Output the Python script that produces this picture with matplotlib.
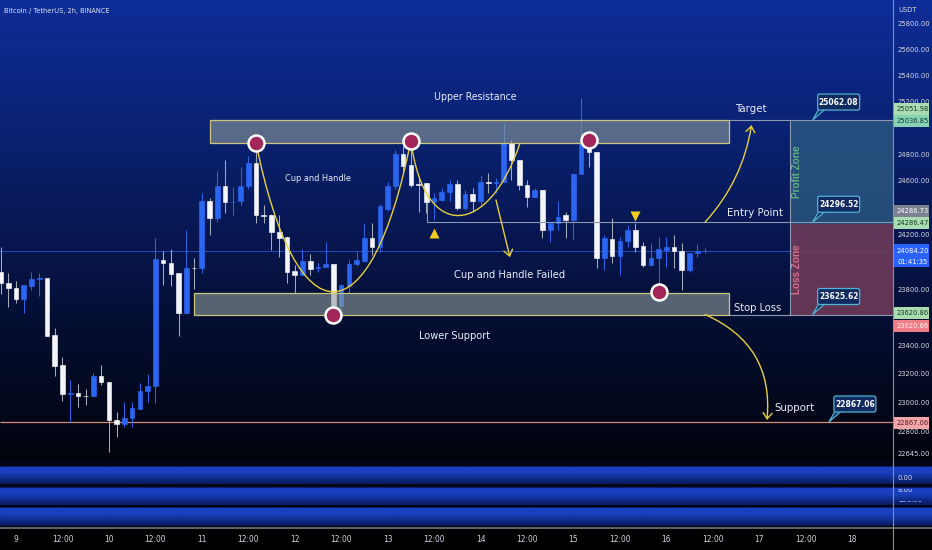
import os
import numpy as np
import matplotlib
matplotlib.use("Agg")
import matplotlib.pyplot as plt
from matplotlib import font_manager as fm
from matplotlib.patches import Rectangle, FancyBboxPatch, Polygon, PathPatch, FancyArrowPatch
from matplotlib.path import Path

# ------------------------------------------------------------------ data
# BTC/USDT, 2h candles.  Bar 0 is day 9 00:00, one bar every 2 hours.
FIRST_BAR = -2
opens = [23935, 23855, 23819, 23734, 23831, 23879, 23886, 23477, 23263, 23065,
         23072, 23049, 23045, 23190, 23149, 22879, 22855, 22896, 22961, 23084,
         23118, 24020, 24000, 23923, 23634, 23964, 23959, 24451, 24330, 24564,
         24443, 24450, 24564, 24740, 24350, 24350, 24228, 24189, 23940, 23910,
         24012, 23959, 23966, 23990, 23686, 23831, 23988, 24015, 24184, 24116,
         24398, 24564, 24808, 24723, 24582, 24589, 24443, 24458, 24523, 24579,
         24405, 24506, 24450, 24594, 24587, 24596, 24887, 24759, 24572, 24482,
         24535, 24236, 24289, 24350, 24313, 24658, 24875, 24820, 24032, 24170,
         24049, 24160, 24236, 24121, 23983, 24032, 24092, 24116, 24087, 23947,
         24071, 24083]
highs = [24116, 23928, 23869, 23836, 23935, 23928, 23891, 23530, 23326, 23161,
         23132, 23099, 23212, 23265, 23149, 22939, 23004, 23004, 23137, 23200,
         24184, 24085, 24099, 23923, 24241, 24032, 24511, 24475, 24675, 24759,
         24560, 24708, 24788, 24890, 24422, 24360, 24350, 24189, 23983, 24097,
         24063, 23995, 24153, 23990, 23845, 24020, 24075, 24288, 24288, 24430,
         24596, 24832, 24862, 24905, 24632, 24589, 24511, 24547, 24608, 24608,
         24535, 24547, 24644, 24662, 24627, 25038, 24912, 24759, 24608, 24547,
         24535, 24289, 24450, 24374, 24658, 25227, 24912, 24820, 24201, 24325,
         24189, 24277, 24289, 24153, 24141, 24189, 24189, 24201, 24141, 24073,
         24135, 24104]
lows = [23772, 23678, 23706, 23634, 23802, 23758, 23472, 23186, 23011, 22867,
        22971, 22988, 23045, 23125, 22658, 22760, 22836, 22831, 22956, 23004,
        22997, 23838, 23831, 23475, 23634, 23806, 23925, 24201, 24301, 24362,
        24350, 24422, 24542, 24294, 24294, 24092, 24044, 23855, 23777, 23910,
        23910, 23935, 23966, 23620, 23670, 23777, 23975, 24005, 24056, 24080,
        24378, 24542, 24662, 24559, 24374, 24362, 24313, 24450, 24450, 24386,
        24386, 24374, 24426, 24511, 24511, 24596, 24608, 24535, 24410, 24482,
        24184, 24153, 24241, 24184, 24170, 24658, 24711, 23959, 23947, 23995,
        23910, 24116, 24080, 23971, 23983, 23790, 23971, 23959, 23801, 23935,
        24044, 24068]
closes = [23850, 23814, 23734, 23836, 23879, 23886, 23472, 23258, 23065, 23069,
          23045, 23045, 23190, 23145, 22879, 22855, 22896, 22964, 23084, 23120,
          24024, 23995, 23918, 23639, 23964, 23959, 24451, 24330, 24564, 24443,
          24446, 24564, 24740, 24350, 24343, 24228, 24184, 23935, 23910, 24012,
          23954, 23967, 23990, 23658, 23838, 23988, 24019, 24184, 24116, 24415,
          24564, 24808, 24716, 24576, 24572, 24443, 24475, 24523, 24579, 24405,
          24506, 24450, 24596, 24587, 24597, 24887, 24759, 24572, 24482, 24535,
          24236, 24289, 24333, 24313, 24658, 24887, 24820, 24032, 24177, 24049,
          24160, 24236, 24116, 23983, 24032, 24099, 24116, 24087, 23947, 24073,
          24085, 24084.20]
LAST_PRICE = closes[-1]

time_ticks = list(range(0, 109, 6))
time_labels = ["9", "12:00", "10", "12:00", "11", "12:00", "12", "12:00", "13",
               "12:00", "14", "12:00", "15", "12:00", "16", "12:00", "17",
               "12:00", "18"]
price_ticks = [25800, 25600, 25400, 25200, 24800, 24600, 24200, 23800,
               23400, 23200, 23000, 22800, 22645]

# levels of the drawings
TARGET_LEVEL = 25062.08
ENTRY_LEVEL = 24296.52
STOP_LEVEL = 23625.62
SUPPORT_LEVEL = 22867.06
POS_TARGET = 25051.98
POS_ENTRY = 24286.47
POS_STOP = 23620.86
RES_ZONE = (24890, 25062.08)
SUP_ZONE = (23621, 23780)

# price-scale tags
tag_values = [25051.98, 25036.85, 24286.73, 24286.47, 23620.86, 23620.86, 22867.06]

# pivots marked with circles: (bar, 'high' / 'low')
pivots = [(31, "high"), (51, "high"), (41, "low"), (74, "high"), (83, "low")]

# ------------------------------------------------------------------ fonts
def _narrow_path(bold=False):
    want = 700 if bold else 400
    best = None
    for f in fm.fontManager.ttflist:
        tag = (f.name + " " + os.path.basename(f.fname)).lower()
        if "mono" in tag or ("serif" in tag and "sans" not in tag):
            continue
        stretch = str(f.stretch).lower()
        if not ("narrow" in tag or "condensed" in tag or
                stretch in ("condensed", "semi-condensed", "extra-condensed")):
            continue
        if f.style != "normal":
            continue
        w = f.weight
        if not isinstance(w, (int, float)):
            w = fm.weight_dict.get(str(w).lower(), 400)
        score = abs(w - want)
        if "liberation" in tag:
            score -= 60
        if "semi" in tag or "extra" in tag or "ultra" in tag:
            score += 40
        if best is None or score < best[0]:
            best = (score, f.fname)
    return best[1] if best else None

_NARROW = {False: _narrow_path(False), True: _narrow_path(True)}


def font(size, bold=False):
    path = _NARROW[bold]
    if path:
        return fm.FontProperties(fname=path, size=size)
    return fm.FontProperties(family=["Liberation Sans", "DejaVu Sans"],
                             weight="bold" if bold else "normal", size=size * 0.85)


# ------------------------------------------------------------------ layout
W, H = 932, 550
PANE_RIGHT = 893
PANE_BOTTOM = 460
TIME_LINE = 528

fig = plt.figure(figsize=(W / 100, H / 100), dpi=100)

# background: blue-to-black gradient, indicator stripes, black time strip
ys = np.arange(H) + 0.5
stops_y = [0, 120, 240, 340, 420, 460]
stops_c = np.array([[14, 45, 152], [10, 35, 118], [7, 22, 78],
                    [4, 13, 45], [2, 7, 24], [1, 3, 12]]) / 255.0
col = np.zeros((H, 3))
for k in range(3):
    col[:, k] = np.interp(ys, stops_y, stops_c[:, k])
col[ys >= 460] = np.array([3, 6, 22]) / 255.0
bright = np.array([26, 64, 192]) / 255.0
dark = np.array([9, 24, 88]) / 255.0
for y0, y1 in [(466, 484.5), (487, 505.5), (507.5, 526)]:
    m = (ys >= y0) & (ys < y1)
    t = (ys[m] - y0) / (y1 - y0)
    f = np.clip((t - 0.35) / 0.65, 0, 1)[:, None]
    col[m] = bright * (1 - f) + dark * f
    col[m & (ys < y0 + 1)] = np.array([12, 30, 105]) / 255.0
col[ys >= 526] = 0.0

ax_bg = fig.add_axes([0, 0, 1, 1], zorder=0)
ax_bg.set_xlim(0, W)
ax_bg.set_ylim(H, 0)
ax_bg.axis("off")
ax_bg.imshow(col[:, None, :], extent=(0, W, H, 0), aspect="auto",
             interpolation="bilinear")

# price pane
ax = fig.add_axes([0, 1 - PANE_BOTTOM / H, PANE_RIGHT / W, PANE_BOTTOM / H], zorder=1)
ax.set_yscale("log")
ax.set_xlim(-2.067, 113.28)
ax.set_ylim(22605, 25992)
ax.axis("off")
XMAX = ax.get_xlim()[1]

# overlay in figure pixels (y downwards)
ax_top = fig.add_axes([0, 0, 1, 1], zorder=2)
ax_top.set_xlim(0, W)
ax_top.set_ylim(H, 0)
ax_top.axis("off")
ax_top.patch.set_visible(False)


def to_px(i, p):
    xd, yd = ax.transData.transform((i, p))
    return xd, H - yd


# ------------------------------------------------------------------ candles
idx = np.arange(FIRST_BAR, FIRST_BAR + len(opens))
o, hi, lo, c = (np.array(a, dtype=float) for a in (opens, highs, lows, closes))
up = c >= o
BLUE = "#2a66f2"
WHITE = "#f3f5fa"
body_col = np.where(up, BLUE, WHITE)
wick_col = np.where(up, "#2e63e6", "#a4abba")
ax.vlines(idx, lo, hi, colors=wick_col, linewidth=0.75, zorder=2)
ax.bar(idx, np.maximum(c, o) - np.minimum(c, o), bottom=np.minimum(c, o),
       width=0.6, color=body_col, edgecolor=body_col, linewidth=0.45, zorder=3)

# horizontal reference lines
ax.hlines(SUPPORT_LEVEL, ax.get_xlim()[0], XMAX, color="#d88a74", lw=0.9, zorder=1.5)
ax.axhline(LAST_PRICE, color="#2d5fe6", lw=0.7, alpha=0.75, zorder=1.5)

# resistance / support zones
ZONE_LEFT_RES, ZONE_LEFT_SUP, ZONE_RIGHT = 25.06, 23.05, 92.1
for left, (z0, z1) in [(ZONE_LEFT_RES, RES_ZONE), (ZONE_LEFT_SUP, SUP_ZONE)]:
    ax.add_patch(Rectangle((left, z0), ZONE_RIGHT - left, z1 - z0,
                           facecolor="#8f9c9a", alpha=0.6, edgecolor="none", zorder=4))
    ax.add_patch(Rectangle((left, z0), ZONE_RIGHT - left, z1 - z0,
                           facecolor="none", edgecolor="#cbc67c", lw=0.9, zorder=4.1))

# target / entry / stop lines
GRAY = "#8d99b0"
ax.hlines(TARGET_LEVEL, ZONE_RIGHT, XMAX, color=GRAY, lw=0.8, zorder=4)
ax.hlines(STOP_LEVEL, ZONE_RIGHT, XMAX, color=GRAY, lw=0.8, zorder=4)
ax.plot([53.05, 53.05, XMAX], [24439, ENTRY_LEVEL, ENTRY_LEVEL], color=GRAY,
        lw=0.8, zorder=4)

# long position tool
POS_LEFT = 100.0
ax.add_patch(Rectangle((POS_LEFT, POS_ENTRY), XMAX - POS_LEFT, POS_TARGET - POS_ENTRY,
                       facecolor="#2a5680", alpha=0.85, edgecolor="none", zorder=3.5))
ax.add_patch(Rectangle((POS_LEFT, POS_STOP), XMAX - POS_LEFT, POS_ENTRY - POS_STOP,
                       facecolor="#733c5a", alpha=0.85, edgecolor="none", zorder=3.5))
ax.vlines(POS_LEFT, POS_STOP, POS_TARGET, color=GRAY, lw=0.8, zorder=4)
zone_font = fm.FontProperties(family=["Liberation Sans", "DejaVu Sans"],
                              weight="bold", size=7.2)
ax.text(100.9, 24670, "Profit Zone", rotation=90, ha="center", va="center",
        color="#5fb07f", fontproperties=zone_font, zorder=6)
ax.text(100.9, 23954, "Loss Zone", rotation=90, ha="center", va="center",
        color="#d4708b", fontproperties=zone_font, zorder=6)

# cup and handle curves
YELLOW = "#e6cf3c"
cup = [(31, highs[31 - FIRST_BAR]), (36.2, 23431), (45.8, 23431), (51, highs[51 - FIRST_BAR])]
handle = [(51, highs[51 - FIRST_BAR]), (52.8, 24129), (61.2, 24202), (65.1, 24888)]
for pts in (cup, handle):
    path = Path(pts, [Path.MOVETO, Path.CURVE4, Path.CURVE4, Path.CURVE4])
    ax.add_patch(PathPatch(path, facecolor="none", edgecolor=YELLOW, lw=1.0, zorder=5))

# arrows
arrow_style = "->,head_length=4.3,head_width=3.2"
for a, b, rad in [((62.0, 24461), (63.8, 24041), 0.0),
                  ((89.0, ENTRY_LEVEL), (95.0, 25024), 0.15),
                  ((89.0, STOP_LEVEL), (97.0, 22881), -0.36)]:
    ax.add_patch(FancyArrowPatch(a, b, arrowstyle=arrow_style,
                                 connectionstyle=f"arc3,rad={rad}", color=YELLOW,
                                 lw=1.0, mutation_scale=1, shrinkA=0, shrinkB=0,
                                 zorder=5))

# triangles
ax.plot([54.0], [24219], marker="^", ms=6.5, color="#f2cf1c", mec="none", zorder=5)
ax.plot([80.0], [24342], marker="v", ms=6.5, color="#f2cf1c", mec="none", zorder=5)

# pivot circles
for bar, kind in pivots:
    p = highs[bar - FIRST_BAR] if kind == "high" else lows[bar - FIRST_BAR]
    ax.plot([bar], [p], marker="o", ms=11.5, mfc="#a3265a", mec="white", mew=1.8,
            zorder=6)

# chart annotations
TXT = "#e8edf8"
labels = [
    (59.3, 25238, "Upper Resistance", 7.6),
    (39.0, 24625, "Cup and Handle", 6.6),
    (63.8, 23910, "Cup and Handle Failed", 7.9),
    (56.7, 23472, "Lower Support", 7.8),
    (94.9, 25146, "Target", 8.2),
    (95.45, 24365, "Entry Point", 8.2),
    (95.8, 23672, "Stop Loss", 8.0),
    (100.5, 22964, "Support", 8.2),
]
for x, y, s, sz in labels:
    ax.text(x, y, s, ha="center", va="center", color=TXT, fontproperties=font(sz),
            zorder=7)

# ------------------------------------------------------------------ overlay
# callouts with value of each level
CALL_EDGE = "#4fb3d3"
CALL_FACE = "#112a60"
for ai, lvl in [(102.9, TARGET_LEVEL), (102.9, ENTRY_LEVEL), (102.9, STOP_LEVEL),
                (105.0, SUPPORT_LEVEL)]:
    x, y = to_px(ai, lvl)
    ax_top.add_patch(Polygon([(x, y), (x + 6, y - 10.5), (x + 12, y - 10.5)],
                             closed=True, facecolor=CALL_FACE, edgecolor=CALL_EDGE,
                             lw=0.9, zorder=3))
    ax_top.add_patch(FancyBboxPatch((x + 5, y - 26), 42, 16,
                                    boxstyle="round,pad=0,rounding_size=2",
                                    facecolor=CALL_FACE, edgecolor=CALL_EDGE, lw=0.9,
                                    zorder=4))
    ax_top.text(x + 26, y - 18, f"{lvl:.2f}", ha="center", va="center",
                color="white", fontproperties=font(6.0, bold=True), zorder=5)

# separators
ax_top.plot([PANE_RIGHT, PANE_RIGHT], [0, H], color="#8a909c", lw=0.8, zorder=2)
ax_top.plot([0, W], [TIME_LINE, TIME_LINE], color="#7d838f", lw=1.1, zorder=2)

# title
ax_top.text(4, 11, "Bitcoin / TetherUS, 2h, BINANCE", ha="left", va="center",
            color="#dce3f2", fontproperties=font(5.3), zorder=5)

# price scale
AX_TXT = "#d5dae4"
TICK_SIZE = 5.4
ax_top.text(898, 10, "USDT", ha="left", va="center", color=AX_TXT,
            fontproperties=font(TICK_SIZE), zorder=5)
for p in price_ticks:
    _, y = to_px(0, p)
    ax_top.text(898, y, f"{p:.2f}", ha="left", va="center", color=AX_TXT,
                fontproperties=font(TICK_SIZE), zorder=5)

tag_styles = [("#a9dcb1", "#173a20", -12), ("#86d2b5", "#173a2c", -2),
              ("#7b8190", "#ffffff", -13), ("#a9dcb1", "#173a20", -1),
              ("#a9dcb1", "#173a20", -2), ("#ef7f86", "#fff0f0", 11),
              ("#f4a5aa", "#4a1a1e", 1)]
for val, (bg, fg, dy) in zip(tag_values, tag_styles):
    _, y = to_px(0, val)
    y += dy
    ax_top.add_patch(Rectangle((893.5, y - 6), 35.5, 12, facecolor=bg,
                               edgecolor="none", zorder=6))
    ax_top.text(897, y, f"{val:.2f}", ha="left", va="center", color=fg,
                fontproperties=font(TICK_SIZE), zorder=7)

# last price tag with countdown
_, y_last = to_px(0, LAST_PRICE)
ax_top.add_patch(Rectangle((893.5, y_last - 7.3), 35.5, 23, facecolor="#2962ff",
                           edgecolor="none", zorder=6))
ax_top.text(897, y_last, f"{LAST_PRICE:.2f}", ha="left", va="center", color="white",
            fontproperties=font(TICK_SIZE), zorder=7)
ax_top.text(897, y_last + 11, "01:41:35", ha="left", va="center", color="white",
            fontproperties=font(TICK_SIZE), zorder=7)

# indicator scale
ax_top.text(898, 478, "0.00", ha="left", va="center", color=AX_TXT,
            fontproperties=font(TICK_SIZE), zorder=5)
for s, yc, ycut in [("8.00", 489.5, 489.0), ("100.00", 500.5, 500.5)]:
    t = ax_top.text(898, yc, s, ha="left", va="center", color=AX_TXT,
                    fontproperties=font(TICK_SIZE), zorder=5)
    t.set_clip_path(Rectangle((893, ycut), 40, 12, transform=ax_top.transData))
    t.set_clip_on(True)

# time scale
for tk, lab in zip(time_ticks, time_labels):
    x, _ = to_px(tk, 24000)
    ax_top.text(x, 539, lab, ha="center", va="center", color="#d0d5de",
                fontproperties=font(6.0), zorder=5)

fig.savefig("out.png", dpi=100)
